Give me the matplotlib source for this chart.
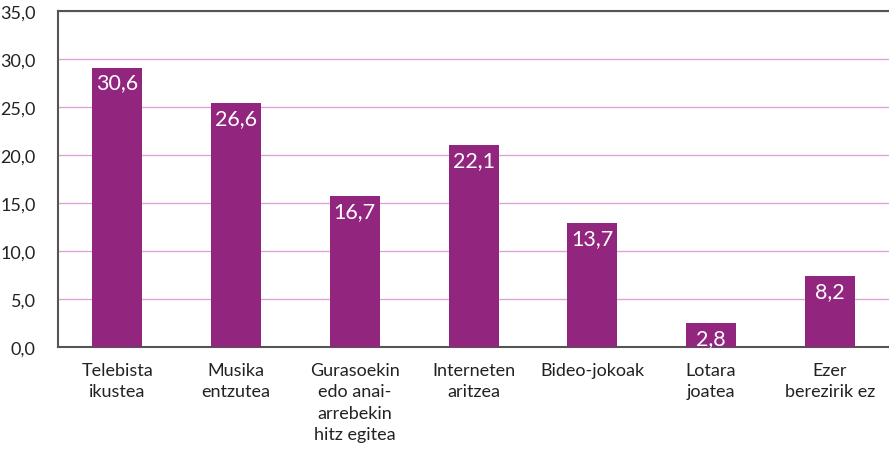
import matplotlib
matplotlib.use('Agg')
import matplotlib.pyplot as plt

plt.rcParams['font.family'] = ['Lato', 'DejaVu Sans']

categories = ['Telebista\nikustea', 'Musika\nentzutea', 'Gurasoekin\nedo anai-\narrebekin\nhitz egitea',
              'Interneten\naritzea', 'Bideo-jokoak', 'Lotara\njoatea', 'Ezer\nberezirik ez']
heights = [29.1, 25.4, 15.7, 21.0, 12.9, 2.5, 7.4]
labels = ['30,6', '26,6', '16,7', '22,1', '13,7', '2,8', '8,2']
yticks = [0, 5, 10, 15, 20, 25, 30, 35]

fig = plt.figure(figsize=(8.89, 4.56), dpi=100)
ax = fig.add_axes([0.0652, 0.237, 0.935, 0.737])

x = range(len(categories))
bars = ax.bar(x, heights, width=0.42, color='#92267f', zorder=3)
for b, lab in zip(bars, labels):
    ax.annotate(lab, (b.get_x() + b.get_width() / 2, b.get_height()),
                xytext=(0, -3.5), textcoords='offset points',
                ha='center', va='top', color='white', fontsize=15.5)

ax.set_xlim(-0.5, len(categories) - 0.5)
ax.set_ylim(0, 35)
ax.set_yticks(yticks)
ax.set_yticklabels([f'{v:.1f}'.replace('.', ',') for v in yticks], fontsize=13, color='#222222')
ax.set_xticks(list(x))
ax.set_xticklabels(categories, fontsize=13, color='#222222', linespacing=1.4, va='top')
ax.tick_params(axis='both', length=0)
ax.tick_params(axis='x', pad=11)
ax.tick_params(axis='y', pad=16)

ax.yaxis.grid(True, color='#dda6db', linewidth=1, zorder=0)
ax.spines['right'].set_visible(False)
for s in ['left', 'top', 'bottom']:
    ax.spines[s].set_color('#555555')
    ax.spines[s].set_linewidth(1.5)

fig.savefig('out.png', dpi=100)
